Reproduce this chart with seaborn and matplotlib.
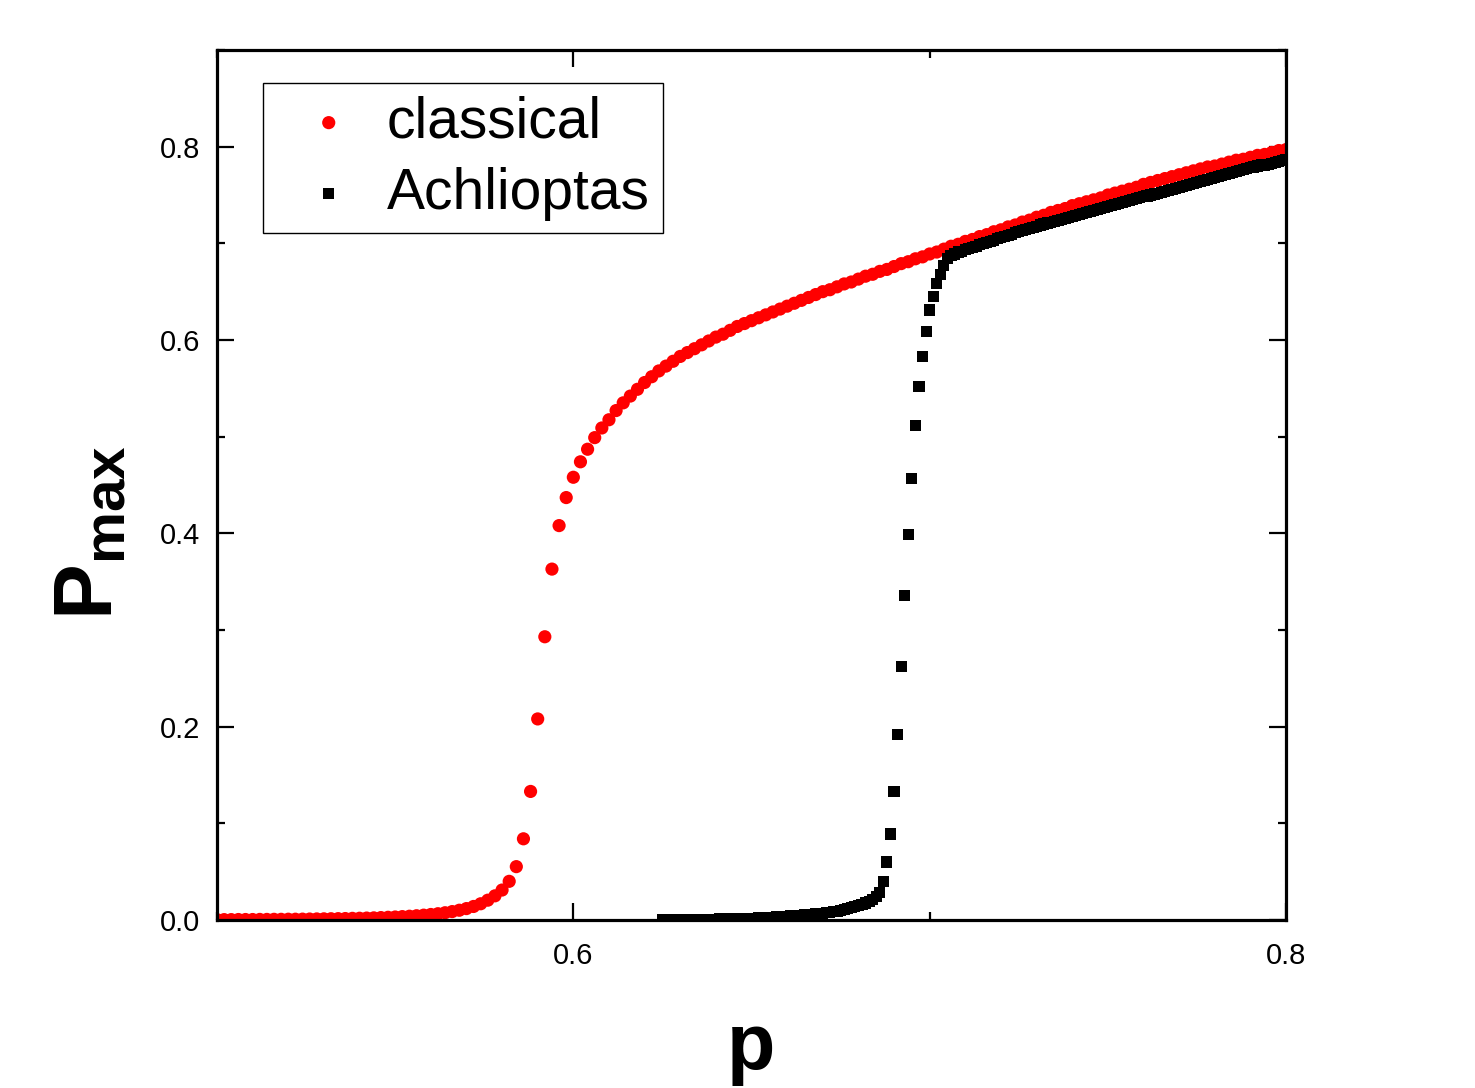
import numpy as np
import pandas as pd
import matplotlib
matplotlib.use("Agg")
import matplotlib.pyplot as plt
import seaborn as sns
from matplotlib.ticker import MultipleLocator, FormatStrFormatter

# ---------------- data ----------------
# classical: p = 0.500 ... 0.800, step 0.002
P_classical = [
    0.0004, 0.0004, 0.0004, 0.0005, 0.0005, 0.0005, 0.0006, 0.0006, 0.0007, 0.0007,
    0.0008, 0.0008, 0.0009, 0.0010, 0.0011, 0.0012, 0.0013, 0.0014, 0.0015, 0.0017,
    0.0018, 0.0020, 0.0022, 0.0025, 0.0028, 0.0031, 0.0035, 0.0039, 0.0044, 0.0050,
    0.0057, 0.0065, 0.0075, 0.0087, 0.0101, 0.0118, 0.0140, 0.0168, 0.0205, 0.0250,
    0.0310, 0.0400, 0.0552, 0.0840, 0.1330, 0.2080, 0.2930, 0.3630, 0.4080, 0.4370,
    0.4580, 0.4740, 0.4870, 0.4990, 0.5090, 0.5175, 0.527, 0.535, 0.542, 0.549,
    0.556, 0.562, 0.568, 0.573, 0.578, 0.583, 0.587, 0.591, 0.595, 0.599,
    0.603, 0.606, 0.610, 0.614, 0.617, 0.620, 0.623, 0.626, 0.629, 0.632,
    0.635, 0.638, 0.641, 0.644, 0.647, 0.650, 0.652, 0.655, 0.658, 0.660,
    0.663, 0.666, 0.668, 0.671, 0.673, 0.676, 0.679, 0.681, 0.684, 0.686,
    0.689, 0.691, 0.694, 0.697, 0.699, 0.702, 0.704, 0.707, 0.709, 0.712,
    0.714, 0.717, 0.719, 0.722, 0.724, 0.727, 0.729, 0.732, 0.734, 0.736,
    0.739, 0.741, 0.743, 0.745, 0.747, 0.750, 0.752, 0.754, 0.756, 0.758,
    0.761, 0.763, 0.765, 0.767, 0.769, 0.771, 0.773, 0.775, 0.777, 0.779,
    0.780, 0.782, 0.784, 0.786, 0.787, 0.789, 0.791, 0.792, 0.794, 0.796,
    0.797,
]
p_classical = np.round(0.500 + 0.002 * np.arange(len(P_classical)), 3)

# Achlioptas: p = 0.625 ... 0.800, step 0.001
P_achlioptas = [
    0.0003, 0.0003, 0.0003, 0.0004, 0.0004, 0.0004, 0.0005, 0.0005, 0.0005, 0.0006,
    0.0006, 0.0007, 0.0007, 0.0008, 0.0008, 0.0009, 0.0010, 0.0010, 0.0011, 0.0012,
    0.0013, 0.0014, 0.0015, 0.0016, 0.0017, 0.0018, 0.0020, 0.0021, 0.0023, 0.0025,
    0.0027, 0.0029, 0.0031, 0.0034, 0.0036, 0.0039, 0.0042, 0.0045, 0.0048, 0.0051,
    0.0054, 0.0057, 0.0060, 0.0063, 0.0067, 0.0071, 0.0075, 0.0080, 0.0086, 0.0092,
    0.0099, 0.0107, 0.0116, 0.0126, 0.0137, 0.0150, 0.0162, 0.0176, 0.0192, 0.0212,
    0.0240, 0.0285, 0.0400, 0.0600, 0.0890, 0.1330, 0.1920, 0.2620, 0.3360, 0.3990,
    0.4570, 0.5120, 0.5515, 0.5830, 0.6090, 0.6310,
    0.645, 0.658, 0.668, 0.677,
    0.684, 0.687, 0.689, 0.691, 0.692, 0.694, 0.695, 0.696, 0.697, 0.699,
    0.700, 0.701, 0.702, 0.703, 0.705, 0.706, 0.707, 0.708, 0.709, 0.711,
    0.712, 0.713, 0.714, 0.715, 0.716, 0.717, 0.719, 0.720, 0.721, 0.722,
    0.723, 0.724, 0.725, 0.726, 0.727, 0.728, 0.729, 0.730, 0.731, 0.732,
    0.733, 0.734, 0.735, 0.736, 0.737, 0.738, 0.739, 0.740, 0.741, 0.742,
    0.743, 0.744, 0.745, 0.746, 0.747, 0.748, 0.749, 0.750, 0.751, 0.752,
    0.753, 0.754, 0.755, 0.756, 0.757, 0.758, 0.759, 0.760, 0.761, 0.762,
    0.763, 0.764, 0.765, 0.766, 0.767, 0.768, 0.769, 0.770, 0.771, 0.772,
    0.773, 0.774, 0.775, 0.776, 0.777, 0.778, 0.779, 0.780, 0.781, 0.781,
    0.782, 0.783, 0.784, 0.785, 0.786, 0.787,
]
p_achlioptas = np.round(0.625 + 0.001 * np.arange(len(P_achlioptas)), 3)

series_labels = ["classical", "Achlioptas"]
x_label = "p"
y_label = r"$\mathbf{P}_{\mathbf{max}}$"

# ---------------- style ----------------
sns.set_style("ticks")
plt.rcParams["font.family"] = ["Liberation Sans", "DejaVu Sans"]
plt.rcParams["mathtext.fontset"] = "custom"
plt.rcParams["mathtext.rm"] = "Liberation Sans"
plt.rcParams["mathtext.bf"] = "Liberation Sans:bold"
for key in ["text.color", "axes.labelcolor", "xtick.color", "ytick.color",
            "axes.edgecolor"]:
    plt.rcParams[key] = "black"

W, H = 1475, 1088
fig = plt.figure(figsize=(W / 100, H / 100), dpi=100)
fig.patch.set_facecolor("white")
L, R, T, B = 217, 1286, 50, 920
ax = fig.add_axes([L / W, 1 - B / H, (R - L) / W, (B - T) / H])
ax.set_facecolor("white")

df_c = pd.DataFrame({"p": p_classical, "P": P_classical})
df_a = pd.DataFrame({"p": p_achlioptas, "P": P_achlioptas})

sns.scatterplot(data=df_c, x="p", y="P", ax=ax, marker="o", s=90,
                color="#ff0000", linewidth=0, edgecolor="none",
                label=series_labels[0])
sns.scatterplot(data=df_a, x="p", y="P", ax=ax, marker="s", s=64,
                color="black", linewidth=0, edgecolor="none",
                label=series_labels[1])

ax.set_xlim(0.5, 0.8)
ax.set_ylim(0.0, 0.9)
ax.xaxis.set_major_locator(MultipleLocator(0.2))
ax.xaxis.set_minor_locator(MultipleLocator(0.1))
ax.yaxis.set_major_locator(MultipleLocator(0.2))
ax.yaxis.set_minor_locator(MultipleLocator(0.1))
ax.xaxis.set_major_formatter(FormatStrFormatter("%.1f"))
ax.yaxis.set_major_formatter(FormatStrFormatter("%.1f"))

for sp in ax.spines.values():
    sp.set_linewidth(2.3)
    sp.set_color("black")
    sp.set_visible(True)

ax.tick_params(which="both", direction="in", top=True, right=True,
               bottom=True, left=True, width=1.6, color="black",
               labelcolor="black")
ax.tick_params(which="major", length=12, labelsize=21)
ax.tick_params(which="minor", length=6)
ax.tick_params(axis="x", pad=16)
ax.tick_params(axis="y", pad=12)

ax.set_xlabel(x_label, fontsize=57, fontweight="bold", color="black")
ax.xaxis.set_label_coords(0.5, -0.105)
ax.set_ylabel(y_label, fontsize=60, color="black")
ax.yaxis.set_label_coords(-0.082, 0.445)

leg = ax.legend(loc="upper left", bbox_to_anchor=(0.043, 0.962), fontsize=41,
                frameon=True, fancybox=False, edgecolor="black", framealpha=1,
                borderpad=0.22, labelspacing=0.3, handlelength=1.87,
                handletextpad=0.09, borderaxespad=0, scatterpoints=1)
leg.get_frame().set_linewidth(1.0)
for t in leg.get_texts():
    t.set_color("black")

fig.savefig("out.png", dpi=100)
